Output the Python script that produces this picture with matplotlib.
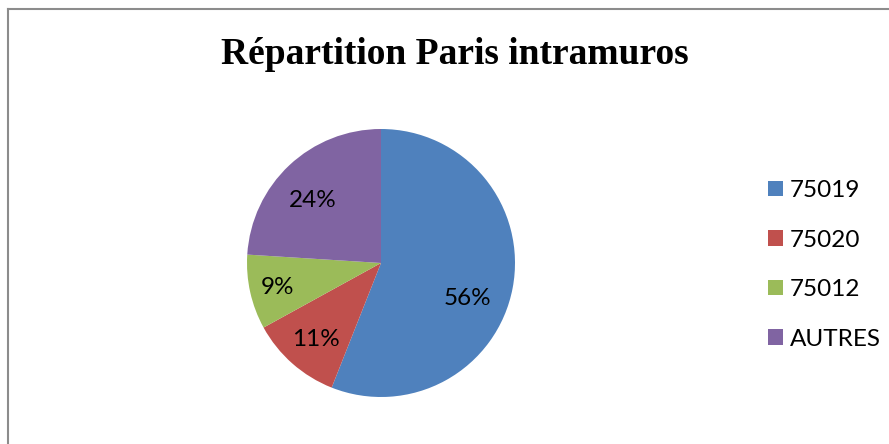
import matplotlib
matplotlib.use('Agg')
import matplotlib.pyplot as plt
from matplotlib.lines import Line2D
import numpy as np

# Data
labels = ['75019', '75020', '75012', 'AUTRES']
values = [56, 11, 9, 24]
colours = ['#4F81BD', '#C0504D', '#9BBB59', '#8064A2']

W, H = 889, 444
fig = plt.figure(figsize=(W / 100, H / 100), dpi=100)

# Pie axes: centre (381, 263) px, radius 134 px
cx, cy, r = 381, 263, 134
ax = fig.add_axes([(cx - r) / W, (H - cy - r) / H, 2 * r / W, 2 * r / H])
wedges, texts, autotexts = ax.pie(values, colors=colours, startangle=90, counterclock=False,
                                  autopct='%1.0f%%', pctdistance=0.74,
                                  textprops=dict(family='Lato', fontsize=17.5, color='black'))
ax.set_xlim(-1, 1)
ax.set_ylim(-1, 1)
ax.set_aspect('equal')

# label placement as in the original (radius, angle in degrees)
label_pos = [(0.694, -20.8), (0.74, -131), (0.79, -168), (0.70, 136.7)]
for t, (rad, deg) in zip(autotexts, label_pos):
    a = np.deg2rad(deg)
    t.set_position((rad * np.cos(a), rad * np.sin(a) - 0.015))

# Title
fig.text(454.5 / W, 1 - 64 / H, 'Répartition Paris intramuros', ha='center', va='baseline',
         family='Liberation Serif', fontweight='bold', fontsize=27)

# Legend
fig.legend(wedges, labels, loc='center left', bbox_to_anchor=(768 / W, 1 - 265 / H),
           frameon=False, prop=dict(family='Lato', size=17.5),
           handlelength=0.6, handleheight=0.6, handletextpad=0.3,
           labelspacing=1.17, borderpad=0, borderaxespad=0)

# Chart border (left and top visible)
fig.add_artist(Line2D([7.5 / W, 7.5 / W], [0, 1 - 9 / H], color='#8c8c8c', lw=1.5,
                      transform=fig.transFigure))
fig.add_artist(Line2D([7.5 / W, 1], [1 - 9 / H, 1 - 9 / H], color='#8c8c8c', lw=1.5,
                      transform=fig.transFigure))

fig.savefig('out.png', dpi=100)
